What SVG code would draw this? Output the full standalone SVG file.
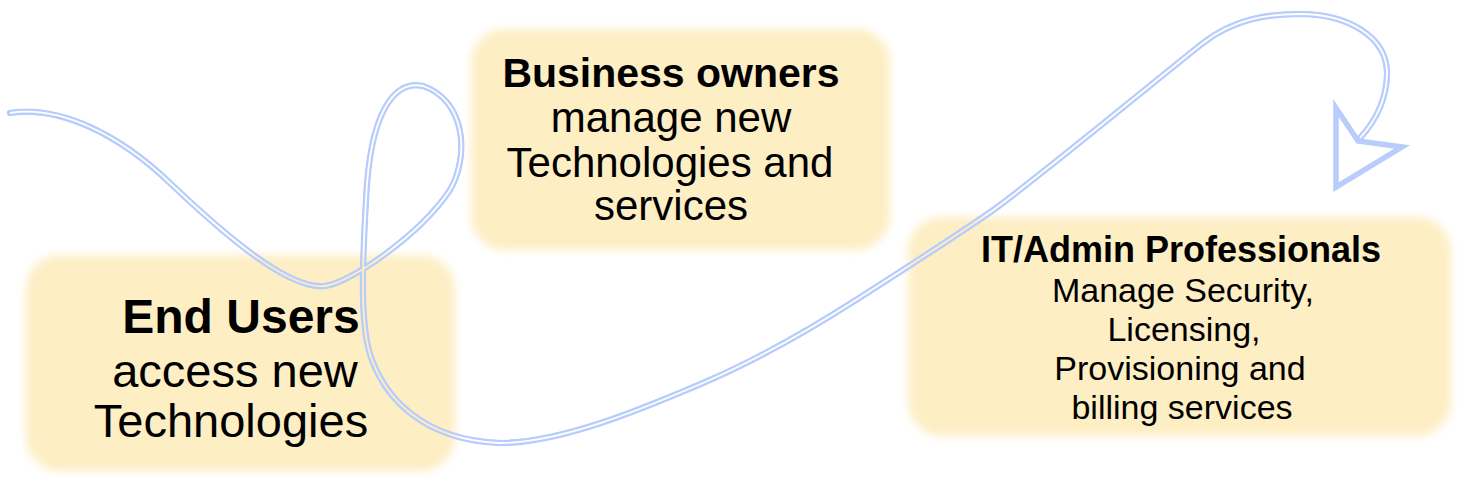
<svg xmlns="http://www.w3.org/2000/svg" xmlns:xlink="http://www.w3.org/1999/xlink" width="1475" height="500" viewBox="0 0 1475 500">
<style>
.box{fill:#fdeec4;filter:url(#soft)}
text{font-family:"Liberation Sans",Arial,sans-serif;fill:#000;text-anchor:middle}
.b{font-weight:bold}
.line{fill:none;stroke:#b8cdfb;stroke-width:6.5;stroke-linecap:round;stroke-linejoin:round}
.head{fill:none;stroke:#b8cdfb;stroke-width:5.5;stroke-linejoin:miter}
</style>
<defs>
<filter id="soft" x="-10%" y="-10%" width="120%" height="120%">
<feGaussianBlur stdDeviation="4"/>
</filter>
<path id="curve" d="M10,113 C60,105 120,135 170,183 C230,240 290,290 325,286 C350,283 420,235 450,190 C470,155 465,100 423,86 C395,80 370,110 366,200 C362,270 360,330 372,360 C385,395 420,440 500,443 C560,443 640,410 703,383 S820,323 856,300 S950,240 989,213 S1150,85 1203,43 C1235,18 1270,14 1300,14 C1345,14 1388,35 1387,75 C1386,105 1372,125 1360,138"/>
<mask id="dbl" maskUnits="userSpaceOnUse" x="0" y="0" width="1475" height="500">
<use xlink:href="#curve" fill="none" stroke="#fff" stroke-width="7" stroke-linecap="round"/>
<use xlink:href="#curve" fill="none" stroke="#000" stroke-width="1.8" stroke-linecap="butt"/>
</mask>
</defs>
<rect width="1475" height="500" fill="#fff"/>
<g id="node-end-users">
<rect class="box" x="26" y="255" width="429" height="216" rx="34"/>
<text class="b" x="241" y="333" font-size="48">End Users</text>
<text x="235" y="387" font-size="47">access new</text>
<text x="231" y="437" font-size="47">Technologies</text>
</g>
<g id="node-business-owners">
<rect class="box" x="471" y="29" width="419" height="221" rx="34"/>
<text class="b" x="671" y="87" font-size="41">Business owners</text>
<text x="671" y="132" font-size="42">manage new</text>
<text x="670" y="177" font-size="42">Technologies and</text>
<text x="671" y="220" font-size="42">services</text>
</g>
<g id="node-it-admin">
<rect class="box" x="908" y="217" width="543" height="219" rx="34"/>
<text class="b" x="1181" y="262" font-size="36">IT/Admin Professionals</text>
<text x="1183" y="302" font-size="34">Manage Security,</text>
<text x="1184" y="341" font-size="34">Licensing,</text>
<text x="1180" y="380" font-size="34">Provisioning and</text>
<text x="1182" y="419" font-size="34">billing services</text>
</g>
<g id="connectors">
<use xlink:href="#curve" class="line" mask="url(#dbl)"/>
<polygon class="head" points="1336,108 1358,141 1402,147 1336,187"/>
</g>
</svg>
